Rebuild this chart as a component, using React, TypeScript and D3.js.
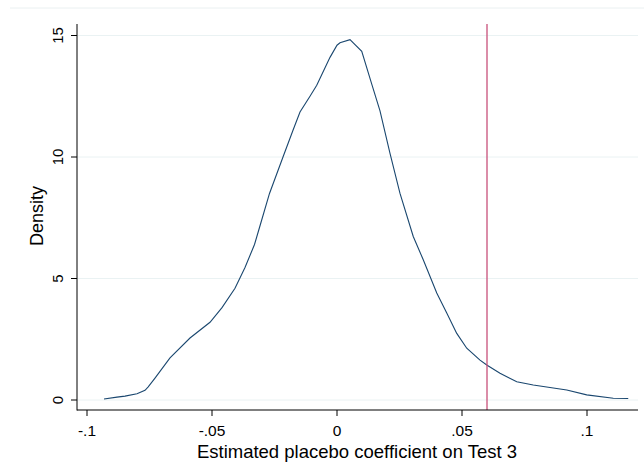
import React from 'react'
import * as d3 from 'd3'

// kernel density estimate
const coefX = [
  -0.0932, -0.088, -0.0848, -0.08, -0.0768, -0.0756, -0.0728, -0.0668, -0.0588, -0.0508,
  -0.046, -0.0408, -0.0368, -0.033, -0.031, -0.027, -0.0216, -0.0176, -0.0148, -0.0108,
  -0.0081, -0.0028, 0.0, 0.0012, 0.0052, 0.0099, 0.0139, 0.0172, 0.0212, 0.0252,
  0.0305, 0.0345, 0.0399, 0.0439, 0.0479, 0.0519, 0.0572, 0.0599, 0.0652, 0.0719,
  0.0785, 0.0919, 0.0999, 0.1105, 0.1165,
]
const density = [
  0.04, 0.12, 0.16, 0.26, 0.4, 0.53, 0.9, 1.73, 2.55, 3.2,
  3.8, 4.6, 5.45, 6.4, 7.1, 8.5, 10.0, 11.1, 11.85, 12.5,
  12.95, 14.1, 14.6, 14.7, 14.83, 14.35, 13.0, 11.9, 10.15, 8.5,
  6.73, 5.77, 4.4, 3.58, 2.74, 2.13, 1.64, 1.44, 1.1, 0.75,
  0.62, 0.41, 0.21, 0.07, 0.06,
]
const xTicks = [-0.1, -0.05, 0, 0.05, 0.1]
const xTickLabels = ['-.1', '-.05', '0', '.05', '.1']
const yTicks = [0, 5, 10, 15]
const actualCoef = 0.06

const W = 644
const H = 474
const left = 77
const right = 638
const top = 24
const bottom = 410

export default function App() {
  const x = d3.scaleLinear().domain([-0.1, 0.05]).range([87, 462])
  const y = d3.scaleLinear().domain([0, 15]).range([400, 35.5])

  const line = d3.line<number>()
    .x((d, i) => x(coefX[i]))
    .y(d => y(d))

  const font = '"Liberation Sans", Arial, sans-serif'

  return (
    <div style={{ position: 'fixed', left: 0, top: 0 }}>
      <svg width={W} height={H} style={{ display: 'block', background: '#fff' }}>
        <line x1={10} x2={W} y1={8} y2={8} stroke="#eaf0f1" strokeWidth={1} />

        {/* gridlines */}
        {yTicks.map(t => (
          <line key={'g' + t} x1={left} x2={right} y1={y(t)} y2={y(t)} stroke="#eaf2f3" strokeWidth={1} />
        ))}

        {/* density curve */}
        <path d={line(density) || ''} fill="none" stroke="#1a476f" strokeWidth={1.1} />

        {/* observed coefficient */}
        <line x1={x(actualCoef)} x2={x(actualCoef)} y1={top} y2={bottom} stroke="#c8507a" strokeWidth={1.3} />

        {/* axes */}
        <line x1={left} x2={left} y1={top} y2={bottom + 0.5} stroke="#000" strokeWidth={1} />
        <line x1={left} x2={right} y1={bottom} y2={bottom} stroke="#000" strokeWidth={1} />

        {yTicks.map(t => (
          <g key={'y' + t}>
            <line x1={71} x2={left} y1={y(t)} y2={y(t)} stroke="#000" />
            <text
              transform={`translate(63,${y(t)}) rotate(-90)`}
              textAnchor="middle"
              fontFamily={font}
              fontSize={15}
              fill="#000"
            >
              {t}
            </text>
          </g>
        ))}

        {xTicks.map((t, i) => (
          <g key={'x' + t}>
            <line x1={x(t)} x2={x(t)} y1={bottom} y2={416} stroke="#000" />
            <text x={x(t)} y={436} textAnchor="middle" fontFamily={font} fontSize={15.5} fill="#000">
              {xTickLabels[i]}
            </text>
          </g>
        ))}

        <text
          transform="translate(43,216) rotate(-90)"
          textAnchor="middle"
          fontFamily={font}
          fontSize={18}
          fill="#000"
        >
          Density
        </text>
        <text x={357} y={458} textAnchor="middle" fontFamily={font} fontSize={18.5} fill="#000">
          Estimated placebo coefficient on Test 3
        </text>
      </svg>
    </div>
  )
}
